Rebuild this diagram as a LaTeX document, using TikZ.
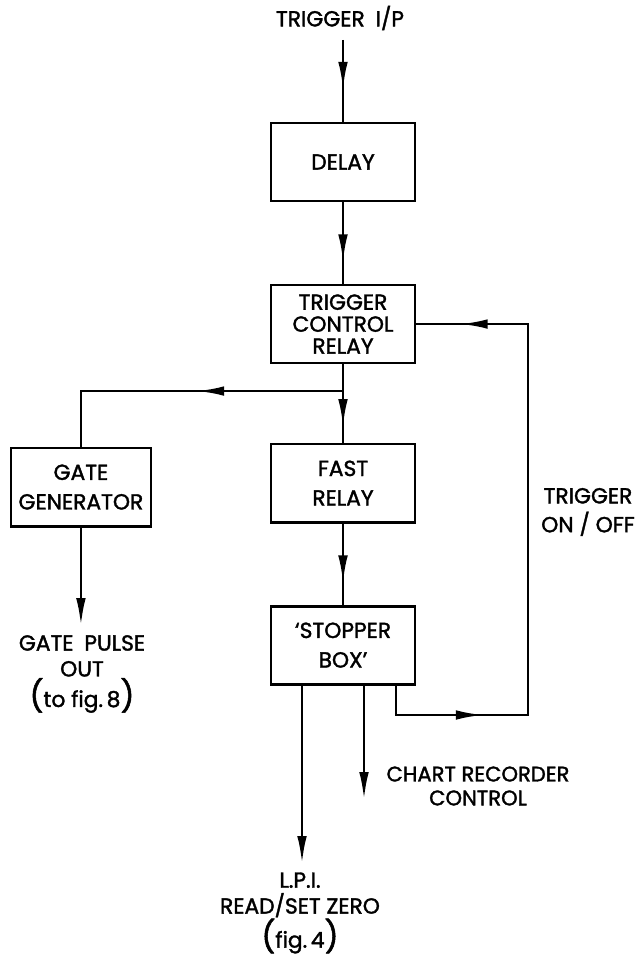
\documentclass[tikz,border=0pt]{standalone}
\usepackage{fontspec}
\setmainfont{Poppins}[FakeBold=1.6]
\usepackage{tikz}
\usetikzlibrary{arrows.meta, positioning, calc, decorations.markings}

\begin{document}
\begin{tikzpicture}[
    x=0.025cm, y=-0.025cm,
    node distance=2.1cm,
    block/.style={rectangle, draw, line width=2pt, minimum width=3.6cm, minimum height=1.95cm, outer sep=0pt, align=center, font=\fontsize{15.5}{21}\selectfont},
    caption/.style={align=center, font=\fontsize{15.5}{18.4}\selectfont},
    line/.style={line width=2pt},
    arrow/.style={line width=2pt, -{Latex[length=7mm, width=2.4mm]}},
    midarrow/.style={postaction={decorate, decoration={markings, mark=at position #1 with {\arrow{Latex[length=7mm, width=2.4mm]}}}}}
]
\useasboundingbox (0,0) rectangle (638,957);

% Main chain
\node[block] (delay) at (343,162) {DELAY};
\node[block, below=of delay, font=\fontsize{15.5}{15.6}\selectfont] (tcr) {TRIGGER\\CONTROL\\RELAY};
\node[block, below=2.025cm of tcr] (fast) {FAST\\RELAY};
\node[block, below=of fast] (stopper) {‘STOPPER\\BOX’};

% Side branch
\node[block, left=3cm of fast, minimum width=3.5cm, yshift=-0.1cm] (gate) {GATE\\GENERATOR};

% Labels
\node[caption] (trigtxt) at (340,18) {TRIGGER\enspace I/P};
\node[caption] (gatetxt) at (82,674) {GATE\enspace PULSE\\OUT\\{\fontsize{22}{22}\selectfont(}to\ fig.\,8{\fontsize{22}{22}\selectfont)}};
\node[caption, font=\fontsize{15.5}{20.5}\selectfont] (onoff) at (588,512) {TRIGGER\\ON / OFF};
\node[caption, font=\fontsize{15}{17}\selectfont] (chart) at (478,786) {CHART RECORDER\\CONTROL};
\node[caption] (lpi) at (300,913) {L.P.I.\\READ/SET ZERO\\{\fontsize{22}{22}\selectfont(}fig.\,4{\fontsize{22}{22}\selectfont)}};

% Free ends and corners
\coordinate (trigin) at (343,40);
\coordinate (split) at ([yshift=-0.7cm]tcr.south);
\coordinate (gateend) at ([yshift=-2.5cm]gate.south);
\coordinate (lpiend) at (302,864);
\coordinate (chartend) at (364,800);
\coordinate (loopcorner) at (528,715);

% Connectors
\draw[line, midarrow=0.6] (trigin) -- (delay);
\draw[line, midarrow=0.73] (delay) -- (tcr);
\draw[line, midarrow=0.79] (tcr) -- (fast);
\draw[line, midarrow=0.73] (fast) -- (stopper);
\draw[line, midarrow=0.46] (split) -| (gate);
\draw[arrow] (gate) -- (gateend);
\draw[arrow] (stopper.south -| lpiend) -- (lpiend);
\draw[arrow] (stopper.south -| chartend) -- (chartend);
\draw[line, midarrow=0.178, midarrow=0.933] ([xshift=1.325cm]stopper.south) |- (loopcorner) |- (tcr.east);

\end{tikzpicture}
\end{document}
